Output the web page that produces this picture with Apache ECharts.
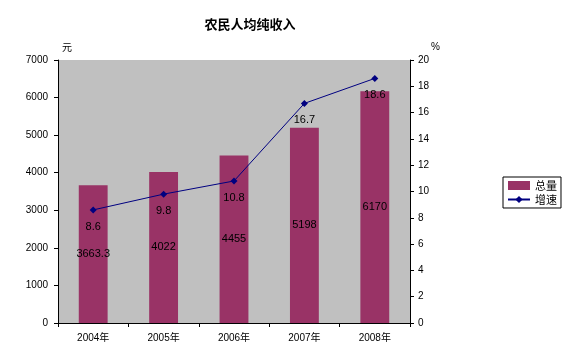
<!DOCTYPE html>
<html><head><meta charset="utf-8">
<script src="https://cdn.jsdelivr.net/npm/echarts@6/dist/echarts.min.js"></script>
<style>html,body{margin:0;padding:0;background:#fff}#c{width:567px;height:360px}</style>
</head><body><div id="c"></div>
<script>
const categories = ['2004年','2005年','2006年','2007年','2008年'];
const totalValues = [3663.3, 4022, 4455, 5198, 6170];
const growthValues = [8.6, 9.8, 10.8, 16.7, 18.6];
const leftTicks = [0, 7000, 1000];
const rightTicks = [0, 20, 2];
const F = '"Liberation Sans", Arial, "Noto Sans CJK SC", sans-serif';
const chart = echarts.init(document.getElementById('c'));
chart.setOption({
  animation: false,
  backgroundColor: '#fff',
  title: { text: '农民人均纯收入', left: 245, top: 13, textAlign: 'center',
    textStyle: { fontFamily: '"Noto Sans CJK SC", sans-serif', fontSize: 13, fontWeight: 'bold', color: '#000' } },
  legend: {
    orient: 'vertical', left: 503, top: 177, width: 57,
    borderColor: '#000', borderWidth: 1, padding: [3, 4, 3, 4], itemGap: 3,
    itemWidth: 22, itemHeight: 9,
    textStyle: { fontFamily: '"Noto Sans CJK SC", sans-serif', fontSize: 11, color: '#000' },
    data: [{ name: '总量', icon: 'rect' }, { name: '增速' }]
  },
  grid: { left: 58, right: 157, top: 60, bottom: 37, backgroundColor: '#c0c0c0', show: true, borderWidth: 0 },
  xAxis: {
    type: 'category', data: categories,
    axisLine: { lineStyle: { color: '#000', width: 1 } },
    axisTick: { show: true, alignWithLabel: false, length: 4, lineStyle: { color: '#000' } },
    axisLabel: { fontFamily: F, fontSize: 10, color: '#000', margin: 10 }
  },
  yAxis: [{
    type: 'value', min: leftTicks[0], max: leftTicks[1], interval: leftTicks[2],
    name: '元', nameGap: 8, nameTextStyle: { fontFamily: '"Noto Sans CJK SC", sans-serif', fontSize: 10, color: '#000', align: 'left', padding: [0,0,0,4] },
    axisLine: { show: true, lineStyle: { color: '#000' } },
    axisTick: { show: true, length: 4, lineStyle: { color: '#000' } },
    axisLabel: { fontFamily: F, fontSize: 10, color: '#000', margin: 10, formatter: v => String(v) },
    splitLine: { show: false }
  }, {
    type: 'value', min: rightTicks[0], max: rightTicks[1], interval: rightTicks[2],
    name: '%', nameGap: 8, nameTextStyle: { fontFamily: F, fontSize: 10, color: '#000', align: 'right', padding: [0,-30,0,0] },
    axisLine: { show: true, lineStyle: { color: '#000' } },
    axisTick: { show: true, length: 4, lineStyle: { color: '#000' } },
    axisLabel: { fontFamily: F, fontSize: 10, color: '#000', margin: 8 },
    splitLine: { show: false }
  }],
  series: [{
    name: '总量', type: 'bar', data: totalValues, barWidth: '41%',
    itemStyle: { color: '#993366' },
    label: { show: true, position: 'inside', fontFamily: F, fontSize: 11, color: '#000' }
  }, {
    name: '增速', type: 'line', yAxisIndex: 1, data: growthValues,
    symbol: 'diamond', symbolSize: 7,
    lineStyle: { color: '#000080', width: 1 }, itemStyle: { color: '#000080' },
    label: { show: true, position: 'bottom', distance: 8, fontFamily: F, fontSize: 11, color: '#000' }
  }]
});
</script></body></html>
